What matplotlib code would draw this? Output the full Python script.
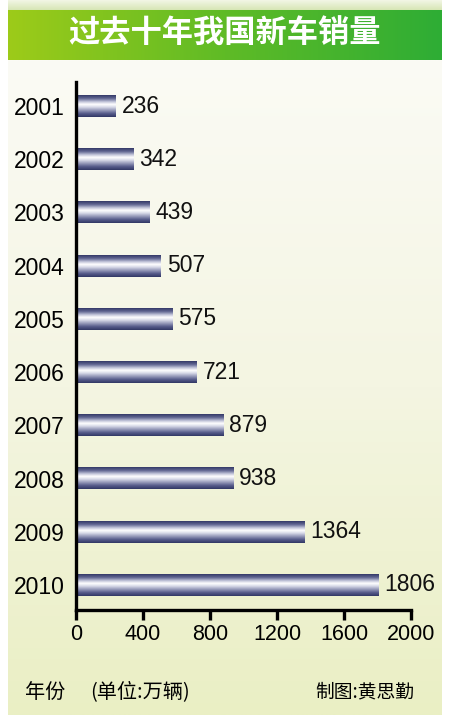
import numpy as np
import matplotlib
matplotlib.use("Agg")
import matplotlib.pyplot as plt
from matplotlib.colors import LinearSegmentedColormap

plt.rcParams['font.family'] = ['Liberation Sans', 'Noto Sans CJK SC', 'DejaVu Sans']

YEARS = ["2001", "2002", "2003", "2004", "2005", "2006", "2007", "2008", "2009", "2010"]
SALES = [236, 342, 439, 507, 575, 721, 879, 938, 1364, 1806]  # 万辆
XTICKS = [0, 400, 800, 1200, 1600, 2000]

TITLE = "过去十年我国新车销量"
YEAR_NOTE = "年份"
UNIT_NOTE = "(单位:万辆)"
CREDIT = "制图:黄思勤"

W, H = 450, 727
fig = plt.figure(figsize=(W / 100, H / 100), dpi=100)
fig.patch.set_facecolor("white")

def px(x0, y0, x1, y1):
    # pixel box (top-left origin) -> figure fraction rect
    return [x0 / W, 1 - y1 / H, (x1 - x0) / W, (y1 - y0) / H]

# ── background panels ────────────────────────────────────────────────────────
bg = fig.add_axes(px(8, 60, 442, 715))
bg_cmap = LinearSegmentedColormap.from_list("bg", ["#fbfbf5", "#f4f5e2", "#eaefc4"])
bg.imshow(np.linspace(0, 1, 256).reshape(-1, 1), cmap=bg_cmap, aspect="auto",
          extent=[0, 1, 0, 1], origin="upper")
bg.axis("off")

strip = fig.add_axes(px(8, 0, 442, 10))
strip_cmap = LinearSegmentedColormap.from_list("strip", ["#f3f6e6", "#d6e6b4"])
strip.imshow(np.linspace(0, 1, 256).reshape(-1, 1), cmap=strip_cmap, aspect="auto",
             extent=[0, 1, 0, 1], origin="upper")
strip.axis("off")

band = fig.add_axes(px(8, 10, 442, 60))
band_cmap = LinearSegmentedColormap.from_list("band", ["#9dcb19", "#5fbb26", "#2ead35"])
band.imshow(np.linspace(0, 1, 256).reshape(1, -1), cmap=band_cmap, aspect="auto",
            extent=[0, 1, 0, 1])
band.axis("off")
band.text(0.5, 0.52, TITLE, color="white", fontsize=22.5, fontweight="heavy",
          family=["Noto Sans CJK SC"], ha="center", va="center",
          transform=band.transAxes)

# ── bar chart ────────────────────────────────────────────────────────────────
ax = fig.add_axes(px(76, 82, 411, 610))
ax.patch.set_alpha(0)
y = np.arange(len(YEARS))
bar_h = 0.41
bar_cmap = LinearSegmentedColormap.from_list(
    "bar", [(0.0, "#343a68"), (0.15, "#626792"), (0.3, "#c0c3d8"), (0.42, "#ffffff"),
            (0.55, "#d8dae8"), (0.7, "#9498b8"), (0.85, "#565b8a"), (1.0, "#323866")])
grad = np.linspace(0, 1, 64).reshape(-1, 1)
for yi, v in zip(y, SALES):
    ax.imshow(grad, cmap=bar_cmap, aspect="auto", origin="upper",
              extent=[0, v, yi + bar_h / 2, yi - bar_h / 2], zorder=2)
    ax.text(v + 35, yi, f"{v}", ha="left", va="center", fontsize=16.5, color="#111111")

ax.set_xlim(0, 2000)
ax.set_ylim(len(YEARS) - 1 + 0.47, -0.451)
ax.set_xticks(XTICKS)
ax.set_xticklabels([str(t) for t in XTICKS], fontsize=15.5)
ax.set_yticks(y)
ax.set_yticklabels(YEARS, fontsize=16.5)
ax.tick_params(axis="x", direction="out", length=7, width=2.4, pad=3)
ax.tick_params(axis="y", length=0, pad=8)
for s in ["top", "right"]:
    ax.spines[s].set_visible(False)
for s in ["left", "bottom"]:
    ax.spines[s].set_linewidth(2.4)
    ax.spines[s].set_color("black")

fig.text(25 / W, 1 - 692 / H, YEAR_NOTE, fontsize=14.5, ha="left", va="center",
         family=["Noto Sans CJK SC"])
fig.text(90 / W, 1 - 692 / H, UNIT_NOTE, fontsize=14.5, ha="left", va="center",
         family=["Noto Sans CJK SC"])
fig.text(315 / W, 1 - 692 / H, CREDIT, fontsize=13.5, ha="left", va="center",
         family=["Noto Sans CJK SC"])

fig.savefig("out.png", dpi=100)
